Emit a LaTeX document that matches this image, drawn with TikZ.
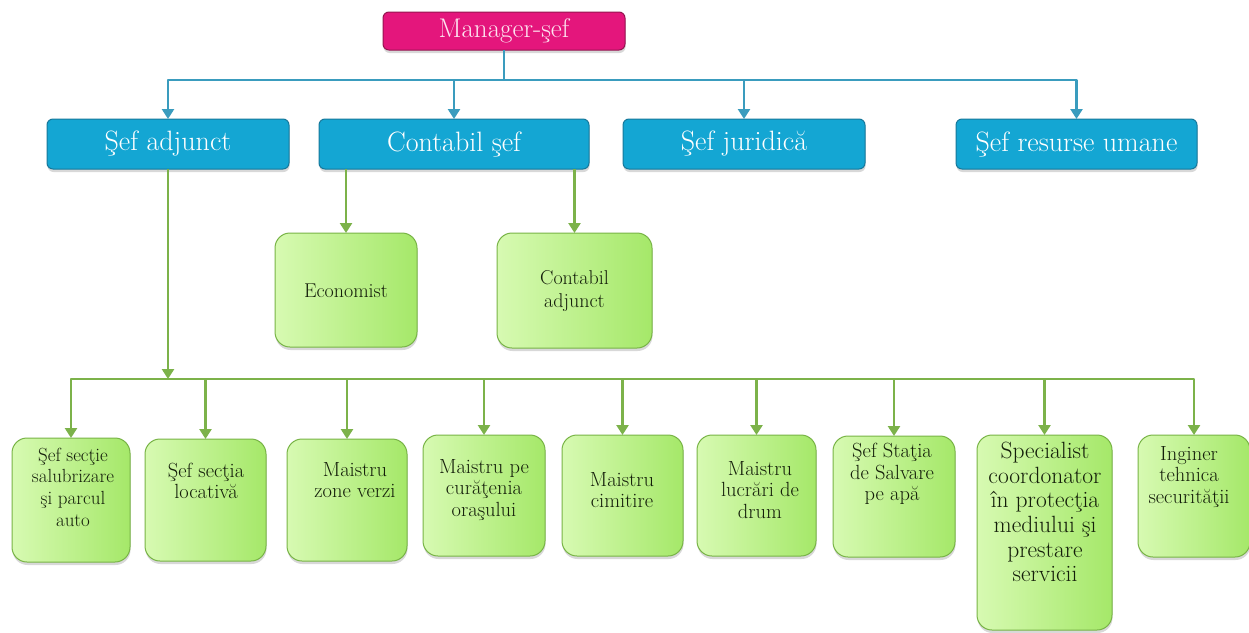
\documentclass[tikz,border=0pt]{standalone}
\usetikzlibrary{arrows.meta,shadows}
\definecolor{mgrfill}{RGB}{228,22,124}
\definecolor{mgrdraw}{RGB}{150,20,80}
\definecolor{bfill}{RGB}{20,166,211}
\definecolor{bdraw}{RGB}{22,120,155}
\definecolor{blinec}{RGB}{58,156,190}
\definecolor{gdraw}{RGB}{120,180,70}
\definecolor{glinec}{RGB}{124,178,74}
\definecolor{glight}{RGB}{215,250,178}
\definecolor{gdark}{RGB}{165,232,105}
\definecolor{gtextc}{RGB}{20,30,10}
\definecolor{mtext}{RGB}{253,228,240}
\begin{document}
\begin{tikzpicture}[x=1pt,y=-1pt,
  shad/.style={drop shadow={shadow xshift=0.5pt,shadow yshift=-3pt,opacity=0.3}},
  mgrbox/.style={draw=mgrdraw,line width=1pt,fill=mgrfill,rounded corners=6pt,
    inner sep=0pt,outer sep=0pt,text=mtext,font=\fontsize{27}{30}\selectfont,shad},
  bluebox/.style={draw=bdraw,line width=1pt,fill=bfill,rounded corners=6pt,
    inner sep=0pt,outer sep=0pt,text=white,font=\fontsize{28}{30}\selectfont,
    minimum height=50pt,shad},
  greenbox/.style={draw=gdraw,line width=1pt,left color=glight,right color=gdark,
    rounded corners=15pt,inner sep=0pt,outer sep=0pt,shad},
  gtext/.style={align=center,inner sep=0pt,text=gtextc,font=\fontsize{20.5}{21.7}\selectfont},
  barrow/.style={draw=blinec,line width=2.8pt,line join=round,-{Triangle[width=12pt,length=10pt]}},
  bl/.style={draw=blinec,line width=2.8pt},
  garrow/.style={draw=glinec,line width=2.8pt,line join=round,-{Triangle[width=12pt,length=10pt]}},
]
\useasboundingbox (0,0) rectangle (1249,632);
\fill[white] (0,0) rectangle (1249,632);

\coordinate (tb) at (0,80);
\coordinate (gb) at (0,379);

% top
\node[mgrbox,minimum width=242pt,minimum height=38pt] (mgr) at (504,31) {Manager-şef};

% blue row
\node[bluebox,minimum width=242pt] (sa) at (168,144) {Şef adjunct};
\node[bluebox,minimum width=270pt] (cs) at (454,144) {Contabil şef};
\node[bluebox,minimum width=242pt] (sj) at (744,144) {Şef juridică};
\node[bluebox,minimum width=241pt] (sru) at (1076.5,144) {Şef resurse umane};

% contabil children
\node[greenbox,minimum width=142pt,minimum height=114pt] (eco) at (346,290) {};
\node[gtext,font=\fontsize{20}{23}\selectfont] (ecot) at (346,291) {Economist};
\node[greenbox,minimum width=155pt,minimum height=115pt] (cad) at (574.5,290.5) {};
\node[gtext,font=\fontsize{20}{23}\selectfont] (cadt) at (574.5,291) {Contabil\\adjunct};

% bottom row
\node[greenbox,minimum width=118pt,minimum height=124pt] (b1) at (71,500) {};
\node[gtext,font=\fontsize{19}{21.7}\selectfont] (b1t) at (73,487) {Şef secţie\\salubrizare\\şi parcul\\auto};
\node[greenbox,minimum width=121pt,minimum height=122pt] (b2) at (205.5,500) {};
\node[gtext] (b2t) at (206,481) {Şef secţia\\locativă};
\node[greenbox,minimum width=120pt,minimum height=122pt] (b3) at (347,500) {};
\node[gtext] (b3t) at (355,480) {Maistru\\zone verzi};
\node[greenbox,minimum width=122pt,minimum height=121pt] (b4) at (484,495.5) {};
\node[gtext] (b4t) at (484,490) {Maistru pe\\curăţenia\\oraşului};
\node[greenbox,minimum width=121pt,minimum height=121pt] (b5) at (622.5,495.5) {};
\node[gtext] (b5t) at (622,490) {Maistru\\cimitire};
\node[greenbox,minimum width=119pt,minimum height=121pt] (b6) at (756.5,495.5) {};
\node[gtext] (b6t) at (760,490) {Maistru\\lucrări de\\drum};
\node[greenbox,minimum width=122pt,minimum height=121pt] (b7) at (894,496.5) {};
\node[gtext] (b7t) at (892,474) {Şef Staţia\\de Salvare\\pe apă};
\node[greenbox,minimum width=135pt,minimum height=195pt] (b8) at (1044.5,532.5) {};
\node[gtext,font=\fontsize{23.5}{24.6}\selectfont] (b8t) at (1045,512) {Specialist\\coordonator\\în protecţia\\mediului şi\\prestare\\servicii};
\node[greenbox,minimum width=112pt,minimum height=122pt] (b9) at (1194,496) {};
\node[gtext] (b9t) at (1189,477) {Inginer\\tehnica\\securităţii};

% blue connectors
\draw[bl] (mgr.south) -- (mgr.south |- tb);
\draw[barrow] (mgr.south |- tb) -- (sa.north |- tb) -- (sa.north);
\draw[barrow] (mgr.south |- tb) -- (sru.north |- tb) -- (sru.north);
\draw[barrow] (cs.north |- tb) -- (cs.north);
\draw[barrow] (sj.north |- tb) -- (sj.north);

% contabil connectors
\draw[garrow] (cs.south -| eco.north) -- (eco.north);
\draw[garrow] (cs.south -| cad.north) -- (cad.north);

% sef adjunct connectors
\draw[garrow] (sa.south) -- (sa.south |- gb);
\draw[garrow] (sa.south |- gb) -- (b1.north |- gb) -- (b1.north);
\draw[garrow] (sa.south |- gb) -- (b9.north |- gb) -- (b9.north);
\foreach \n in {b2,b3,b4,b5,b6,b7,b8}{
  \draw[garrow] (\n.north |- gb) -- (\n.north);
}
\end{tikzpicture}
\end{document}
